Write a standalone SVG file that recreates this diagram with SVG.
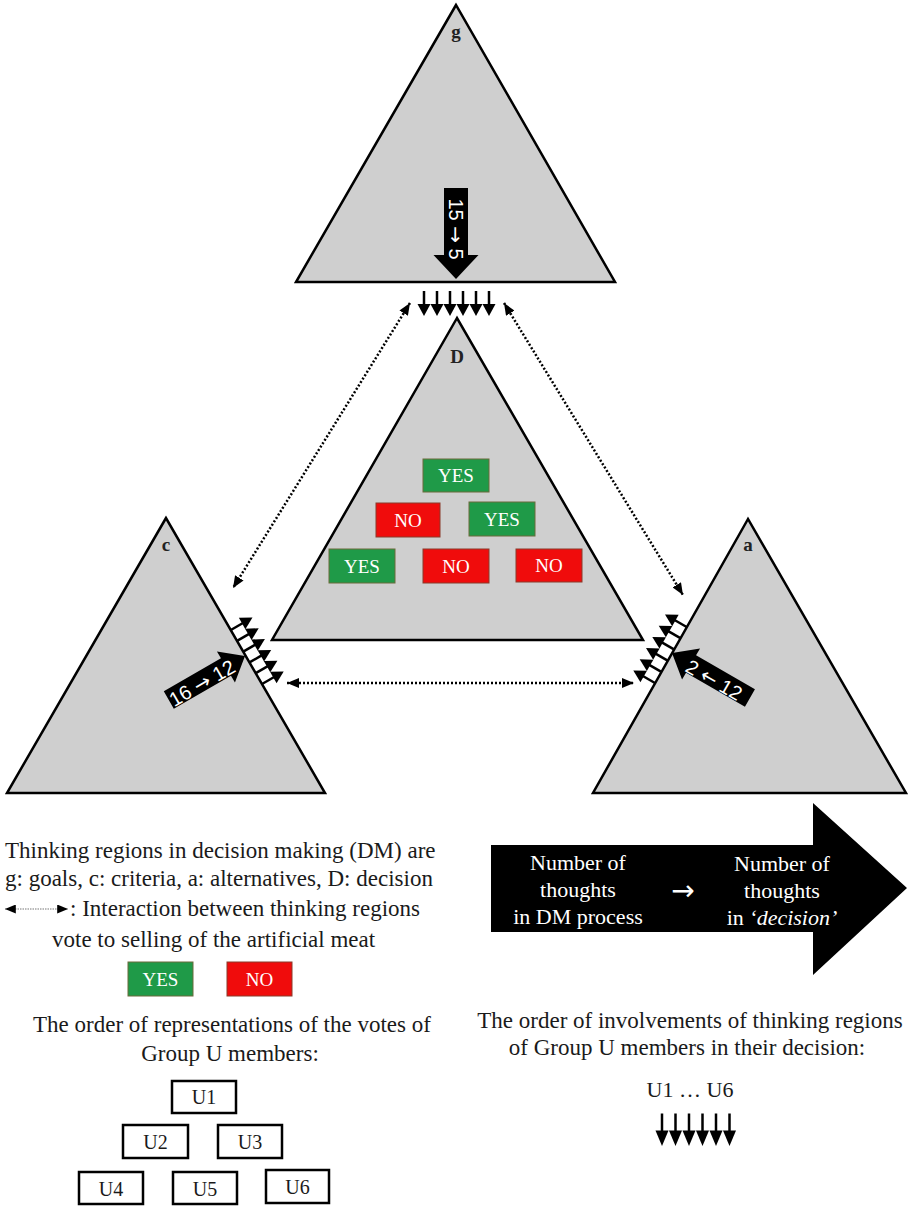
<svg xmlns="http://www.w3.org/2000/svg" width="908" height="1206" viewBox="0 0 908 1206">
<style>
.tri{fill:#cfcfcf;stroke:#000;stroke-width:2.5;stroke-linejoin:miter}
.lbl{font-family:"Liberation Serif",serif;font-weight:bold;font-size:19px;fill:#222;text-anchor:middle}
.yes{fill:#1f9a48;stroke:#6b6b3a;stroke-width:1}
.no{fill:#f00c0c;stroke:#8a3a2a;stroke-width:1}
.bt{font-family:"Liberation Serif",serif;font-size:19px;fill:#fff;text-anchor:middle}
.txt{font-family:"Liberation Serif",serif;font-size:23px;fill:#1a1a1a}
.mid{text-anchor:middle}
.ub{fill:#fff;stroke:#000;stroke-width:2.5}
.ut{font-family:"Liberation Serif",serif;font-size:20px;fill:#1a1a1a;text-anchor:middle}
.dot{fill:none;stroke:#000;stroke-width:2.5;stroke-dasharray:2,2;marker-start:url(#dh);marker-end:url(#dh)}
.big{fill:#000}
.at{font-family:"Liberation Sans",sans-serif;font-size:20px;fill:#fff;text-anchor:middle}
.wt{font-family:"Liberation Serif",serif;font-size:22px;fill:#fff;text-anchor:middle}
.ar{font-family:"DejaVu Sans",sans-serif}
</style>
<defs>
<marker id="dh" viewBox="0 0 12 10" refX="12" refY="5" markerWidth="12" markerHeight="10" markerUnits="userSpaceOnUse" orient="auto-start-reverse">
<path d="M0,0 L12,5 L0,10 Z" fill="#000"/>
</marker>
<marker id="lh" viewBox="0 0 12 10" refX="12" refY="5" markerWidth="12" markerHeight="9" markerUnits="userSpaceOnUse" orient="auto-start-reverse">
<path d="M0,0 L12,5 L0,10 Z" fill="#000"/>
</marker>
<g id="sa">
<line x1="-25" y1="0" x2="-11" y2="0" stroke="#000" stroke-width="2.5"/>
<path d="M-12,-6.5 L0,0 L-12,6.5 Z" fill="#000"/>
</g>
</defs>
<rect width="908" height="1206" fill="#fff"/>

<g id="node-g">
<polygon class="tri" points="456,5 296,282 615,282"/>
<text class="lbl" x="456" y="38">g</text>
<g transform="translate(456,279) rotate(90)">
<path class="big" d="M0,0 L-24,-22.5 L-24,-12 L-91,-12 L-91,12 L-24,12 L-24,22.5 Z"/>
<text class="at" x="-50" y="7">15 <tspan class="ar">→</tspan> 5</text>
</g>
</g>

<g id="node-D">
<polygon class="tri" points="457,318 272,640 643,640"/>
<text class="lbl" x="457" y="363">D</text>
<rect class="yes" x="423" y="459" width="66" height="33"/><text class="bt" x="456" y="482">YES</text>
<rect class="no" x="376" y="503" width="64" height="34"/><text class="bt" x="408" y="527">NO</text>
<rect class="yes" x="469" y="502" width="66" height="34"/><text class="bt" x="502" y="526">YES</text>
<rect class="yes" x="329" y="549" width="66" height="34"/><text class="bt" x="362" y="573">YES</text>
<rect class="no" x="423" y="549" width="66" height="34"/><text class="bt" x="456" y="573">NO</text>
<rect class="no" x="516" y="549" width="66" height="33"/><text class="bt" x="549" y="572">NO</text>
</g>

<g id="node-c">
<polygon class="tri" points="166,518 7,793 325,793"/>
<text class="lbl" x="166" y="551">c</text>
<g transform="translate(245,656) rotate(-30)">
<path class="big" d="M0,0 L-22,-18 L-22,-10 L-88,-10 L-88,10 L-22,10 L-22,18 Z"/>
</g>
<text class="at" transform="translate(202,683) rotate(-30)" y="7">16 <tspan class="ar">→</tspan> 12</text>
</g>

<g id="node-a">
<polygon class="tri" points="748,519 593,793 906,793"/>
<text class="lbl" x="748" y="551">a</text>
<g transform="translate(672,653) rotate(210)">
<path class="big" d="M0,0 L-22,-18 L-22,-10 L-90,-10 L-90,10 L-22,10 L-22,18 Z"/>
</g>
<text class="at" transform="translate(714,680) rotate(30)" y="7">2 <tspan class="ar">←</tspan> 12</text>
</g>

<g id="connectors">
<line class="dot" x1="410" y1="303" x2="233" y2="588"/>
<line class="dot" x1="504" y1="303" x2="683" y2="595"/>
<line class="dot" x1="287" y1="683" x2="634" y2="683"/>
<g>
<use href="#sa" transform="translate(424,316) rotate(90)"/>
<use href="#sa" transform="translate(437,316) rotate(90)"/>
<use href="#sa" transform="translate(450,316) rotate(90)"/>
<use href="#sa" transform="translate(463,316) rotate(90)"/>
<use href="#sa" transform="translate(476,316) rotate(90)"/>
<use href="#sa" transform="translate(489,316) rotate(90)"/>
</g>
<g>
<use href="#sa" transform="translate(252.5,617.5) rotate(-30)"/>
<use href="#sa" transform="translate(258.7,628.3) rotate(-30)"/>
<use href="#sa" transform="translate(264.9,639.1) rotate(-30)"/>
<use href="#sa" transform="translate(271.2,649.9) rotate(-30)"/>
<use href="#sa" transform="translate(277.4,660.7) rotate(-30)"/>
<use href="#sa" transform="translate(283.7,671.5) rotate(-30)"/>
</g>
<g>
<use href="#sa" transform="translate(665.0,614.5) rotate(210)"/>
<use href="#sa" transform="translate(658.7,625.7) rotate(210)"/>
<use href="#sa" transform="translate(652.3,636.9) rotate(210)"/>
<use href="#sa" transform="translate(646.0,648.1) rotate(210)"/>
<use href="#sa" transform="translate(639.7,659.3) rotate(210)"/>
<use href="#sa" transform="translate(633.3,670.5) rotate(210)"/>
</g>
</g>

<g id="legend-left">
<text class="txt" x="5" y="858">Thinking regions in decision making (DM) are</text>
<text class="txt" x="5" y="886">g: goals, c: criteria, a: alternatives, D: decision</text>
<line x1="5" y1="909" x2="68" y2="909" stroke="#777" stroke-width="1.2" stroke-dasharray="1.5,1" marker-start="url(#lh)" marker-end="url(#lh)"/>
<text class="txt" x="70" y="916">: Interaction between thinking regions</text>
<text class="txt" x="52" y="947">vote to selling of the artificial meat</text>
<rect class="yes" x="128" y="962" width="65" height="34"/><text class="bt" x="160.5" y="986">YES</text>
<rect class="no" x="227" y="962" width="65" height="34"/><text class="bt" x="259.5" y="986">NO</text>
<text class="txt mid" x="232" y="1032">The order of representations of the votes of</text>
<text class="txt mid" x="230" y="1061">Group U members:</text>
</g>

<g id="U1"><rect class="ub" x="172" y="1081" width="64" height="32"/><text class="ut" x="204" y="1104">U1</text></g>
<g id="U2"><rect class="ub" x="123" y="1125" width="65" height="33"/><text class="ut" x="155.5" y="1149">U2</text></g>
<g id="U3"><rect class="ub" x="218" y="1125" width="64" height="33"/><text class="ut" x="250" y="1149">U3</text></g>
<g id="U4"><rect class="ub" x="79" y="1172" width="64" height="32"/><text class="ut" x="111" y="1196">U4</text></g>
<g id="U5"><rect class="ub" x="173" y="1172" width="64" height="32"/><text class="ut" x="205" y="1196">U5</text></g>
<g id="U6"><rect class="ub" x="266" y="1170" width="63" height="33"/><text class="ut" x="297.5" y="1194">U6</text></g>

<g id="big-arrow">
<path class="big" d="M491,845 L813,845 L813,803 L907,888 L813,975 L813,932 L491,932 Z"/>
<text class="wt" x="578" y="870">Number of</text>
<text class="wt" x="578" y="897">thoughts</text>
<text class="wt" x="578" y="924">in DM process</text>
<text x="683" y="900" style="font-family:'DejaVu Sans',sans-serif;font-size:28px;fill:#fff;text-anchor:middle">→</text>
<text class="wt" x="782" y="871">Number of</text>
<text class="wt" x="782" y="898">thoughts</text>
<text class="wt" x="782" y="925">in <tspan font-style="italic">‘decision’</tspan></text>
</g>

<g id="legend-right">
<text class="txt mid" x="690" y="1028">The order of involvements of thinking regions</text>
<text class="txt mid" x="687" y="1055">of Group U members in their decision:</text>
<text class="ut" x="690" y="1097" style="font-size:22px">U1 … U6</text>
<use href="#sa" transform="translate(662,1146) rotate(90) scale(1.3,1)"/>
<use href="#sa" transform="translate(675.5,1146) rotate(90) scale(1.3,1)"/>
<use href="#sa" transform="translate(689,1146) rotate(90) scale(1.3,1)"/>
<use href="#sa" transform="translate(702.5,1146) rotate(90) scale(1.3,1)"/>
<use href="#sa" transform="translate(716,1146) rotate(90) scale(1.3,1)"/>
<use href="#sa" transform="translate(729.5,1146) rotate(90) scale(1.3,1)"/>
</g>
</svg>
